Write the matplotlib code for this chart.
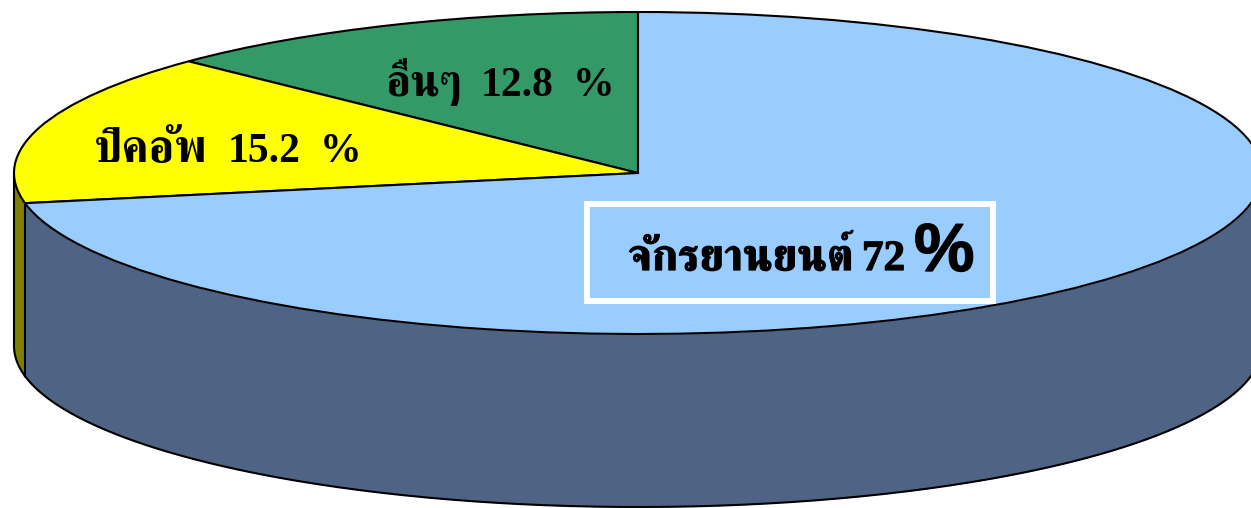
import matplotlib
matplotlib.use('Agg')
import matplotlib.pyplot as plt
import matplotlib.patheffects as pe
from matplotlib.patches import Rectangle
import numpy as np

# shares, in the order they run counter clockwise from 12 o'clock
labels = ['อื่นๆ', 'ปิคอัพ', 'จักรยานยนต์']
shares = [12.8, 15.2, 72.0]
share_text = ['12.8', '15.2', '72']
top_colors = ['#339966', '#FFFF00', '#99CCFF']
wall_colors = ['#1f5c3d', '#808000', '#4F6484']

W, H = 1251, 508
cx, cy = 638, 173   # pie centre in picture pixels
rx, ry = 624, 161
depth = 173 / ry
thai = ['FreeSerif', 'DejaVu Serif']
latin = ['Liberation Serif', 'DejaVu Serif']
edge = 1.5

fig = plt.figure(figsize=(W / 100, H / 100), dpi=100)
ax = fig.add_axes([0, 0, 1, 1])

# side wall first, only the part facing the viewer (180..360 deg)
edges = 90 + 3.6 * np.cumsum([0] + shares)
for i in range(len(shares)):
    a0 = max(edges[i], 180)
    a1 = min(edges[i + 1], 360)
    if a1 <= a0:
        continue
    t = np.radians(np.linspace(a0, a1, 300))
    ax.fill_between(np.cos(t), np.sin(t) - depth, np.sin(t), color=wall_colors[i], lw=0, zorder=1)
    ax.plot(np.cos(t), np.sin(t) - depth, color='k', lw=edge, zorder=2)
    ax.plot([np.cos(t[0])] * 2, [np.sin(t[0]), np.sin(t[0]) - depth], color='k', lw=edge, zorder=2)

ax.pie(shares, colors=top_colors, startangle=90, counterclock=True, radius=1,
       wedgeprops={'edgecolor': 'k', 'linewidth': edge, 'zorder': 3})

# pie() forces a round pie, we want it squashed and placed like the picture
ax.set_aspect('auto')
ax.set_xlim(-cx / rx, (W - cx) / rx)
ax.set_ylim(-(H - cy) / ry, cy / ry)
ax.axis('off')


def put(x, y, s, size, fam):
    return fig.text(x / W, 1 - y / H, s, fontsize=size, fontweight='bold', family=fam,
                    ha='left', va='baseline', color='k', zorder=10)


put(385, 96, labels[0], 32, thai)
put(481, 96, share_text[0], 30, latin)
put(573, 96, '%', 30, latin)
put(94, 162, labels[1], 33, thai)
put(228, 162, share_text[1], 30, latin)
put(320, 162, '%', 30, latin)

fig.add_artist(Rectangle((587 / W, 1 - 301 / H), 406 / W, 97 / H, transform=fig.transFigure,
                         fill=False, edgecolor='white', linewidth=4.3, zorder=9))
stroke = [pe.withStroke(linewidth=0.9, foreground='k')]
put(628, 270, labels[2], 32, thai).set_path_effects(stroke)
put(862, 270, share_text[2], 31, latin).set_path_effects(stroke)
put(914, 271, '%', 49, ['Liberation Sans', 'DejaVu Sans']).set_path_effects(stroke)

fig.savefig('out.png', dpi=100)
